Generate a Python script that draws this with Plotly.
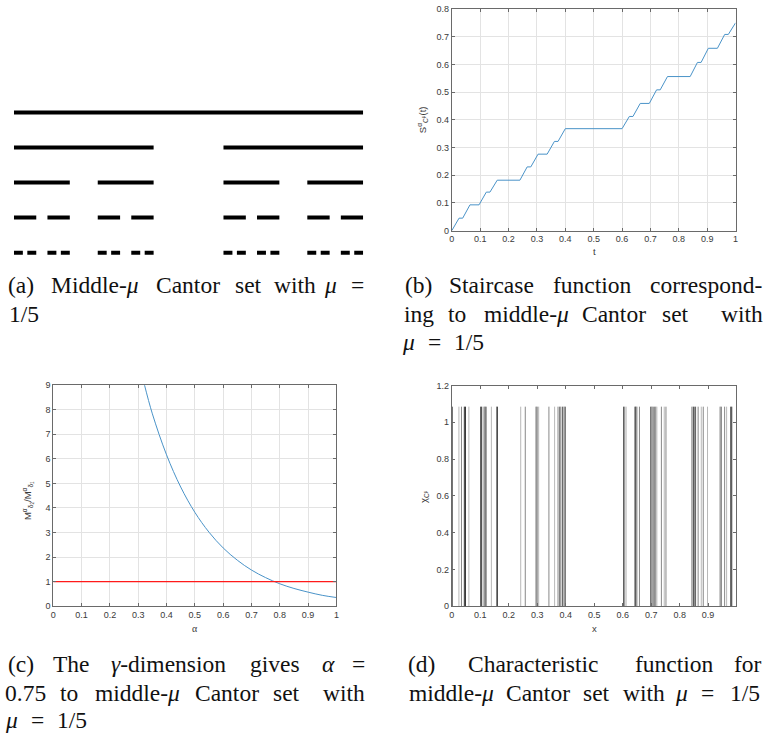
import plotly.graph_objects as go

W, H = 775, 745

# ---------------- data ----------------
# (a) middle-1/5 Cantor set, segments (start, end) per construction level
cantor_lvl1 = [(0.0, 1.0)]
cantor_lvl2 = [(0.0, 0.4), (0.6, 1.0)]
cantor_lvl3 = [(0.0, 0.16), (0.24, 0.4), (0.6, 0.76), (0.84, 1.0)]
cantor_lvl4 = [(0.0, 0.064), (0.096, 0.16), (0.24, 0.304), (0.336, 0.4),
               (0.6, 0.664), (0.696, 0.76), (0.84, 0.904), (0.936, 1.0)]
cantor_lvl5 = [(0.0, 0.0256), (0.0384, 0.064), (0.096, 0.1216), (0.1344, 0.16),
               (0.24, 0.2656), (0.2784, 0.304), (0.336, 0.3616), (0.3744, 0.4),
               (0.6, 0.6256), (0.6384, 0.664), (0.696, 0.7216), (0.7344, 0.76),
               (0.84, 0.8656), (0.8784, 0.904), (0.936, 0.9616), (0.9744, 1.0)]
cantor_levels = [cantor_lvl1, cantor_lvl2, cantor_lvl3, cantor_lvl4, cantor_lvl5]

# (b) staircase function breakpoints
stair_t = [0, 0.0256, 0.0384, 0.064, 0.096, 0.1216, 0.1344, 0.16,
           0.24, 0.2656, 0.2784, 0.304, 0.336, 0.3616, 0.3744, 0.4,
           0.6, 0.6256, 0.6384, 0.664, 0.696, 0.7216, 0.7344, 0.76,
           0.84, 0.8656, 0.8784, 0.904, 0.936, 0.9616, 0.9744, 1.0]
stair_s = [0, 0.045, 0.045, 0.093, 0.093, 0.139, 0.139, 0.182,
           0.182, 0.230, 0.230, 0.276, 0.276, 0.322, 0.322, 0.368,
           0.368, 0.412, 0.412, 0.459, 0.459, 0.508, 0.508, 0.556,
           0.556, 0.607, 0.607, 0.658, 0.658, 0.708, 0.708, 0.750]

# (c) ratio M_d2 / M_d1 versus alpha
alpha_vals = [0.32, 0.35, 0.40, 0.45, 0.50, 0.55, 0.60, 0.65, 0.70,
              0.75, 0.80, 0.85, 0.90, 0.95, 1.00]
ratio_vals = [9.1, 7.83, 6.16, 4.85, 3.82, 3.01, 2.37, 1.87, 1.47,
              1.16, 0.91, 0.72, 0.57, 0.44, 0.35]
ref_level = 1.0

# (d) characteristic function: sample positions and drawn shade
chi_x = [0.002, 0.025, 0.034, 0.044, 0.048, 0.060,
         0.101, 0.105, 0.113, 0.117, 0.121, 0.139, 0.157, 0.160,
         0.242, 0.258, 0.296, 0.300, 0.305,
         0.341, 0.361, 0.373, 0.379, 0.383, 0.389, 0.394, 0.398,
         0.603, 0.607, 0.612, 0.643, 0.646, 0.650, 0.659,
         0.699, 0.703, 0.707, 0.712, 0.716, 0.720, 0.736, 0.746, 0.752,
         0.843, 0.848, 0.852, 0.856, 0.865, 0.876, 0.883, 0.898,
         0.942, 0.946, 0.958, 0.965, 0.979, 0.983]
chi_shade = [1, 3, 2, 0, 0, 3,
             1, 0, 2, 0, 2, 3, 2, 0,
             3, 2, 1, 2, 3,
             2, 3, 2, 1, 2, 1, 2, 0,
             1, 2, 3, 1, 0, 2, 2,
             0, 2, 1, 2, 2, 3, 2, 3, 2,
             2, 0, 2, 1, 2, 3, 2, 3,
             2, 1, 2, 3, 1, 0]
chi_height = 1.085

b_xticks = [0, 0.1, 0.2, 0.3, 0.4, 0.5, 0.6, 0.7, 0.8, 0.9, 1]
b_yticks = [0, 0.1, 0.2, 0.3, 0.4, 0.5, 0.6, 0.7, 0.8]
c_yticks = [0, 1, 2, 3, 4, 5, 6, 7, 8, 9]
d_xticks = [0, 0.1, 0.2, 0.3, 0.4, 0.5, 0.6, 0.7, 0.8, 0.9]
d_yticks = [0, 0.2, 0.4, 0.6, 0.8, 1, 1.2]


def fmt(v):
    return "%g" % v


# ---------------- helpers ----------------
def px(x):
    return x / W


def py(y):
    return 1 - y / H


fig = go.Figure()

# (a) Cantor set
for i, lvl in enumerate(cantor_levels):
    xs, ys = [], []
    for a, b in lvl:
        xs += [a, b, None]
        ys += [5 - i, 5 - i, None]
    fig.add_trace(go.Scatter(x=xs, y=ys, mode="lines", xaxis="x", yaxis="y",
                             line=dict(color="black", width=4),
                             showlegend=False, hoverinfo="skip"))

# (b) staircase
fig.add_trace(go.Scatter(x=stair_t, y=stair_s, mode="lines", xaxis="x2", yaxis="y2",
                         line=dict(color="#4a93c8", width=1), showlegend=False))

# (c) curve + reference line
fig.add_trace(go.Scatter(x=alpha_vals, y=ratio_vals, mode="lines", xaxis="x3", yaxis="y3",
                         line=dict(color="#4a93c8", width=1, shape="spline"),
                         showlegend=False))
fig.add_trace(go.Scatter(x=[0, 1], y=[ref_level, ref_level], mode="lines",
                         xaxis="x3", yaxis="y3",
                         line=dict(color="#ff1a1a", width=1.3), showlegend=False))

# (d) characteristic function
shade_colors = {0: "#1a1a1a", 1: "#4d4d4d", 2: "#7a7a7a", 3: "#b0b0b0"}
for s, col in shade_colors.items():
    xs, ys = [], []
    for xv, sv in zip(chi_x, chi_shade):
        if sv == s:
            xs += [xv, xv, None]
            ys += [0, chi_height, None]
    fig.add_trace(go.Scatter(x=xs, y=ys, mode="lines", xaxis="x4", yaxis="y4",
                             line=dict(color=col, width=0.9),
                             showlegend=False, hoverinfo="skip"))

tickfont = dict(family="Liberation Sans, Arial, sans-serif", size=9, color="#3a3a3a")
axcol = "#6a6a6a"


def axis(domain, rng, tickvals, grid):
    return dict(domain=domain, range=rng, tickvals=tickvals,
                ticktext=[fmt(v) for v in tickvals],
                ticks="inside", ticklen=3, tickcolor=axcol, tickwidth=1,
                showline=True, linecolor=axcol, linewidth=1, mirror="allticks",
                showgrid=grid, gridcolor="#e3e3e3", gridwidth=1,
                zeroline=False, tickfont=tickfont, fixedrange=True)


# (a) axes: y=5 at px 109, y=1 at px 251
a_top, a_bot = 100, 260
unit = (251 - 109) / 4.0
a_yr = [1 - (a_bot - 251) / unit, 5 + (109 - a_top) / unit]

layout_axes = dict(
    xaxis=dict(domain=[px(11), px(363)], range=[0, 1], visible=False, fixedrange=True),
    yaxis=dict(domain=[py(a_bot), py(a_top)], range=a_yr, visible=False, fixedrange=True),
    xaxis2=axis([px(452.3), px(738.3)], [0, 1], b_xticks, True),
    yaxis2=axis([py(228.7), py(4)], [0, 0.8], b_yticks, True),
    xaxis3=axis([px(50.7), px(336)], [0, 1], b_xticks, True),
    yaxis3=axis([py(609.3), py(385.3)], [0, 9], c_yticks, True),
    xaxis4=axis([px(452.3), px(738.3)], [0, 0.9965], d_xticks, False),
    yaxis4=axis([py(609.3), py(385.7)], [0, 1.2], d_yticks, False),
)
layout_axes["xaxis2"]["anchor"] = "y2"
layout_axes["yaxis2"]["anchor"] = "x2"
layout_axes["xaxis3"]["anchor"] = "y3"
layout_axes["yaxis3"]["anchor"] = "x3"
layout_axes["xaxis4"]["anchor"] = "y4"
layout_axes["yaxis4"]["anchor"] = "x4"

annotations = []
labfont = dict(family="Liberation Sans, Arial, sans-serif", size=9.5, color="#3a3a3a")


def lab(text, x, y, angle=0, font=labfont):
    annotations.append(dict(text=text, x=px(x), y=py(y), xref="paper", yref="paper",
                            showarrow=False, textangle=angle, xanchor="center",
                            yanchor="middle", font=font))


lab("S<sup>α</sup><sub>C<sup>μ</sup></sub>(t)", 423, 116, -90)
lab("t", 595.7, 250)
lab("M<sup>α</sup><sub>δ<sub>2</sub></sub>/M<sup>α</sup><sub>δ<sub>1</sub></sub>", 25, 502, -90)
lab("α", 193, 632, 0, dict(family="Liberation Serif, serif", size=10, color="#3a3a3a"))
lab("χ<sub>C<sup>μ</sup></sub>", 425, 498, -90)
lab("x", 595.7, 632)

capfont = dict(family="Liberation Serif, Times New Roman, serif", size=23.5, color="#111111")
mu = "<i>μ</i>"
alpha = "<i>α</i>"
gamma = "<i>γ</i>"

# caption words: (text, left px, right px, baseline px)
caption_words = [
    # (a)
    ("(a)", 3, 33, 292), ("Middle-" + mu, 43, 142, 292), ("Cantor", 150, 222, 292),
    ("set", 232, 263, 292), ("with", 272, 317, 292), (mu, 323, 337, 292), ("=", 348, 367, 292),
    ("1/5", 3, 40, 321),
    # (b)
    ("(b)", 403, 435, 292), ("Staircase", 443, 542, 292), ("function", 552, 637, 292),
    ("correspond-", 648, 768, 292),
    ("ing", 403, 435, 321), ("to", 447, 468, 321), ("middle-" + mu, 483, 572, 321),
    ("Cantor", 583, 648, 321), ("set", 662, 693, 321), ("with", 722, 768, 321),
    (mu, 403, 415, 350), ("=", 427, 442, 350), ("1/5", 452, 487, 350),
    # (c)
    ("(c)", 3, 33, 676), ("The", 48, 90, 676), (gamma + "-dimension", 100, 233, 676),
    ("gives", 247, 302, 676), (alpha, 320, 337, 676), ("=", 350, 367, 676),
    ("0.75", 3, 43, 705), ("to", 55, 78, 705), ("middle-" + mu, 90, 182, 705),
    ("Cantor", 193, 258, 705), ("set", 270, 302, 705), ("with", 320, 367, 705),
    (mu, 3, 15, 733), ("=", 27, 42, 733), ("1/5", 52, 87, 733),
    # (d)
    ("(d)", 406, 437, 676), ("Characteristic", 461, 609, 676), ("function", 633, 720, 676),
    ("for", 733, 768, 676),
    ("middle-" + mu, 406, 497, 705), ("Cantor", 507, 572, 705), ("set", 582, 615, 705),
    ("with", 623, 668, 705), (mu, 677, 690, 705), ("=", 702, 718, 705), ("1/5", 728, 768, 705),
]

for text, l, r, base in caption_words:
    annotations.append(dict(text=text, x=px((l + r) / 2), y=py(base - 8),
                            xref="paper", yref="paper", showarrow=False,
                            xanchor="center", yanchor="middle", font=capfont))

fig.update_layout(
    width=W, height=H, margin=dict(l=0, r=0, t=0, b=0),
    paper_bgcolor="white", plot_bgcolor="white",
    annotations=annotations, showlegend=False,
    **layout_axes,
)

fig.write_html("out.html", config={"displayModeBar": False},
               post_script="document.body.style.margin='0';document.body.style.padding='0';")
